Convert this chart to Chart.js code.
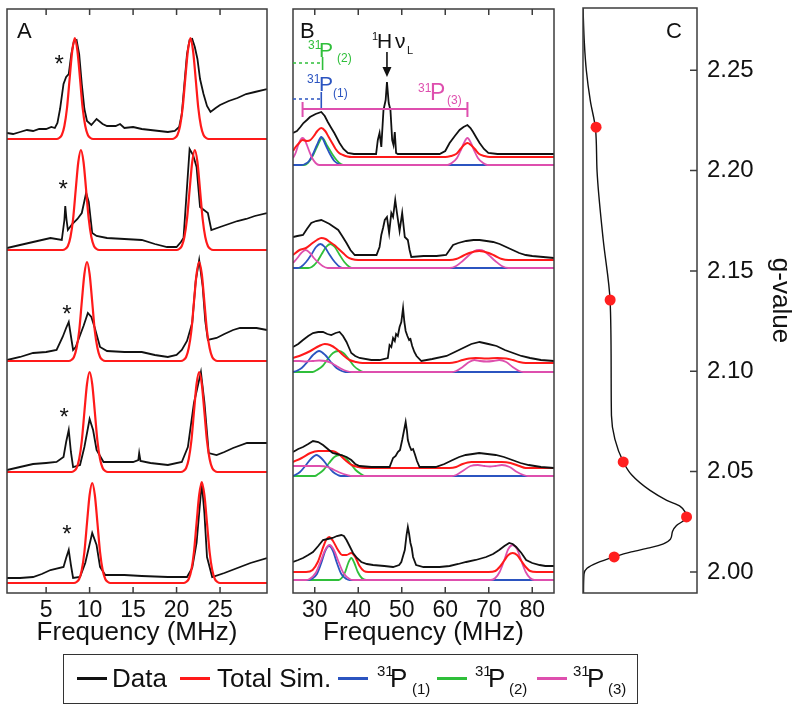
<!DOCTYPE html>
<html><head><meta charset="utf-8">
<script src="https://cdn.jsdelivr.net/npm/chart.js@4.4.1/dist/chart.umd.min.js"></script>
<style>
html,body{margin:0;padding:0;background:#fff;}
body{width:800px;height:710px;position:relative;overflow:hidden;font-family:'Liberation Sans',Arial,Helvetica,sans-serif;color:#111;}
canvas{position:absolute;top:0;}
#cA{left:0;} #cB{left:280px;} #cC{left:570px;}
#legendBox{position:absolute;left:63px;top:654px;width:575px;height:50px;border:1.5px solid #333;box-sizing:border-box;}
.ln{position:absolute;top:677px;height:3px;width:30px;}
.tx{position:absolute;font-size:26px;line-height:1;white-space:nowrap;top:665px;}
.sp{position:absolute;font-size:15px;line-height:1;white-space:nowrap;top:663px;}
.sb{position:absolute;font-size:15px;line-height:1;white-space:nowrap;top:681px;}
</style></head>
<body>
<canvas id="cA" width="280" height="660"></canvas>
<canvas id="cB" width="290" height="660"></canvas>
<canvas id="cC" width="230" height="600"></canvas>
<div id="legendBox"></div>
<div class="ln" style="left:77px;background:#111"></div><span class="tx" style="left:112px">Data</span>
<div class="ln" style="left:180px;background:#ff1a1a"></div><span class="tx" style="left:217px">Total Sim.</span>
<div class="ln" style="left:338px;background:#2b54c0"></div><span class="sp" style="left:377px">31</span><span class="tx" style="left:390px">P</span><span class="sb" style="left:412px">(1)</span>
<div class="ln" style="left:437px;background:#2fbf3a"></div><span class="sp" style="left:475px">31</span><span class="tx" style="left:488px">P</span><span class="sb" style="left:509px">(2)</span>
<div class="ln" style="left:537px;background:#de4fae"></div><span class="sp" style="left:573px">31</span><span class="tx" style="left:587px">P</span><span class="sb" style="left:608px">(3)</span>
<script>
// ===================== DATA =====================
// Panel A: ENDOR spectra, frequency (MHz) vs intensity (arb.), five field positions (top to bottom)
const A_ticks = [5, 10, 15, 20, 25];
const A1_black = [[0.5,6],[1.2,5],[2,7],[2.8,9],[3.5,8],[4.2,10],[5,10],[5.6,12],[6,11],[6.3,16],[6.6,30],[7.0,55],[7.3,62],[7.6,65],[7.9,85],[8.2,98],[8.5,99],[8.8,85],[9.1,55],[9.4,30],[9.7,18],[10.2,14],[10.8,20],[11.5,15],[12,13],[13,13],[13.5,15],[14,11],[15,12],[16,10],[17,9],[18,8],[19,7],[19.8,8],[20.3,12],[20.6,25],[20.9,55],[21.2,85],[21.5,99],[21.8,100],[22.1,92],[22.4,80],[22.7,60],[23.1,45],[23.5,33],[23.9,27],[24.5,31],[25,34],[26,38],[27,41],[28,45],[29,47],[30.4,50]];
const A1_sim = [[0.5,0],[6.2,0],[6.5,1],[6.8,4],[7.1,13],[7.4,31],[7.7,60],[8.0,88],[8.3,101],[8.6,88],[8.9,60],[9.2,31],[9.5,13],[9.8,4],[10.1,1],[10.4,0],[19.5,0],[19.8,1],[20.1,4],[20.4,13],[20.7,31],[21.0,60],[21.3,88],[21.6,101],[21.9,88],[22.2,60],[22.5,31],[22.8,13],[23.1,4],[23.4,1],[23.7,0],[30.4,0]];
const A2_black = [[0.5,2],[2,5],[3.5,8],[5.5,12],[6.8,10],[7.1,30],[7.2,44],[7.35,30],[7.5,20],[8.0,26],[8.6,31],[9.1,37],[9.6,57],[9.9,48],[10.3,17],[10.8,14],[12,12],[14,11],[16,10],[17.5,6],[18.9,3],[20,3],[20.5,8],[20.8,12],[21.1,50],[21.5,101],[21.9,95],[22.3,83],[22.7,43],[23.6,37],[24.0,20],[25,23],[26,26],[27,29],[28,31],[29,34],[30.4,37]];
const A2_sim = [[0.5,0],[6.9,0],[7.2,1],[7.5,4],[7.8,13],[8.1,31],[8.4,60],[8.7,88],[9.0,100],[9.3,88],[9.6,60],[9.9,31],[10.2,13],[10.5,4],[10.8,1],[11.1,0],[20.0,0],[20.3,1],[20.6,4],[20.9,13],[21.2,31],[21.5,60],[21.8,88],[22.1,100],[22.4,88],[22.7,60],[23.0,31],[23.3,13],[23.6,4],[23.9,1],[24.2,0],[30.4,0]];
const A3_black = [[0.5,1],[2,4],[3.5,8],[5,9],[6.2,11],[6.9,24],[7.3,33],[7.6,39],[7.85,25],[8.1,11],[8.4,14],[8.7,21],[9.3,35],[9.8,48],[10.2,44],[10.6,33],[11.2,14],[12,10],[14,9],[16,9],[17.5,6],[19,4],[20,6],[20.6,11],[21.2,20],[21.8,38],[22.2,80],[22.6,101],[23.0,75],[23.3,40],[23.6,21],[24.6,23],[25.5,27],[26.5,31],[27.3,33],[29.2,33],[30.4,31]];
const A3_sim = [[0.5,0],[7.6,0],[7.9,1],[8.2,4],[8.5,13],[8.8,30],[9.1,59],[9.4,87],[9.7,99],[10.0,87],[10.3,59],[10.6,30],[10.9,13],[11.2,4],[11.5,1],[11.8,0],[20.5,0],[20.8,1],[21.1,4],[21.4,13],[21.7,30],[22.0,59],[22.3,87],[22.6,99],[22.9,87],[23.2,59],[23.5,30],[23.8,13],[24.1,4],[24.4,1],[24.7,0],[30.4,0]];
const A4_black = [[0.5,2],[2,5],[3.5,8],[5,9],[6.2,10],[7.0,15],[7.3,30],[7.6,42],[7.85,20],[8.1,5],[8.9,7],[9.4,25],[10.0,53],[10.4,42],[10.8,22],[11.6,10],[13,10],[15,10],[15.6,12],[15.7,19],[15.85,11],[17,9],[19,7],[20.6,10],[21.3,25],[22.0,69],[22.8,100],[23.2,70],[23.7,19],[24.6,17],[25.5,20],[26.5,24],[28.1,29],[30.4,29]];
const A4_sim = [[0.5,0],[7.9,0],[8.2,1],[8.5,4],[8.8,13],[9.1,31],[9.4,60],[9.7,88],[10.0,100],[10.3,88],[10.6,60],[10.9,31],[11.2,13],[11.5,4],[11.8,1],[12.1,0],[20.5,0],[20.8,1],[21.1,4],[21.4,13],[21.7,31],[22.0,60],[22.3,88],[22.6,100],[22.9,88],[23.2,60],[23.5,31],[23.8,13],[24.1,4],[24.4,1],[24.7,0],[30.4,0]];
const A5_black = [[0.5,5],[2,5],[3.5,6],[4.5,9],[5.5,13],[7.0,16],[7.3,25],[7.6,33],[7.85,18],[8.1,5],[8.9,6],[9.5,20],[10.3,50],[10.8,38],[11.2,16],[11.8,8],[14,8],[16,7],[19,6],[21.2,6],[21.8,15],[22.3,40],[22.9,100],[23.2,70],[23.5,26],[24.1,6],[25.5,10],[27,15],[28.5,20],[30.4,25]];
const A5_sim = [[0.5,0],[8.2,0],[8.5,1],[8.8,4],[9.1,13],[9.4,31],[9.7,60],[10.0,88],[10.3,100],[10.6,88],[10.9,60],[11.2,31],[11.5,13],[11.8,4],[12.1,1],[12.4,0],[20.8,0],[21.1,1],[21.4,4],[21.7,13],[22.0,31],[22.3,60],[22.6,88],[22.9,101],[23.2,88],[23.5,60],[23.8,31],[24.1,13],[24.4,4],[24.7,1],[25.0,0],[30.4,0]];

// Panel B: 31P region, five field positions (top to bottom)
const B_ticks = [30, 40, 50, 60, 70, 80];
const B1_black = [[25,32],[25.9,34],[26.7,38],[27.4,42],[28.2,45],[28.9,48],[30.2,51],[31.5,53],[32.3,49],[33,43],[33.8,37],[34.5,32],[35.1,27],[35.7,22],[36.6,16],[37.6,12],[39,11],[41.8,11],[44.1,11],[44.5,25],[44.9,32],[45.3,18],[45.8,55],[46.3,65],[46.6,83],[47.0,62],[47.4,55],[47.8,25],[48.1,20],[48.4,33],[48.7,12],[49.1,11],[52,11],[55,11],[58.7,11],[60,14],[61,22],[62.2,29],[63.3,35],[64.2,38],[65.1,40],[65.8,37],[66.4,33],[67.2,27],[67.9,22],[68.9,16],[69.9,12],[72,11],[76,11],[80,11],[85,11]];
const B1_sim = [[25,14],[25.6,18],[26.2,21],[27.2,25],[28.2,24],[29,25],[29.8,29],[30.6,34],[31.5,37],[32.4,34],[33.2,28],[34,22],[34.8,16],[35.6,12],[36.5,10],[37.5,8.5],[38.5,8],[60,8],[61.3,9],[62.5,11],[63.5,16],[64.3,20],[65.1,22],[65.9,20],[66.8,16],[67.8,11],[69,9],[70.3,8],[85,8]];
const B1_P1 = [[25,0],[27,0],[27.8,1],[28.7,4],[29.6,11],[30.5,20],[31.5,28],[32.5,20],[33.5,11],[34.5,4],[35.5,1],[36.3,0],[85,0]];
const B1_P2 = [[25,0],[27.5,0],[28.4,2],[29.4,8],[30.5,18],[31.7,27],[32.9,19],[34,11],[35,5],[36,1],[37,0],[85,0]];
const B1_P3 = [[25,7],[25.6,12],[26.2,20],[26.7,25],[27.2,27],[27.7,25],[28.2,20],[28.8,13],[29.4,7],[30.2,2],[31,0],[60.5,0],[61.5,2],[62.7,7],[63.6,15],[64.3,22],[65.1,27],[65.9,22],[66.6,15],[67.5,7],[68.7,2],[69.7,0],[85,0]];
const B2_black = [[25,31],[26,32],[27.3,33],[28.2,39],[29.2,45],[30.3,47],[31.5,48],[32.5,46],[33.4,44],[34.4,41],[35.4,38],[36.3,32],[37.3,25],[38.2,18],[39.2,13],[41,13],[44.2,13],[44.9,21],[45.3,33],[45.7,40],[46.1,48],[46.6,51],[47.1,35],[47.6,55],[48.0,51],[48.5,68],[48.9,55],[49.5,37],[50.1,55],[50.7,31],[51.4,28],[51.8,18],[52.2,11],[55,12],[58,12],[60.2,13],[61.8,23],[63,25],[64.8,27],[66.5,28],[67.9,28],[69.5,27],[71,26],[72.5,24],[74,21],[75.5,18],[77,15],[78.5,13],[80,12],[82.5,11],[85,10]];
const B2_sim = [[25,13],[26.5,18],[28,20],[29.5,25],[30.5,28],[31.5,30],[32.5,29],[33.5,26],[34.5,23],[35.5,19],[36.5,15],[37.5,11],[38.5,9],[40,8],[61,8],[62.5,9],[64,12],[65.5,15],[67.8,17],[70,15],[71.5,12],[73,9],[74.5,8],[85,8]];
const B2_P1 = [[25,0],[26,0],[26.8,1],[28,6],[29.3,14],[30.3,21],[31.3,24],[32.3,21],[33.3,14],[34.6,6],[35.8,1],[36.8,0],[85,0]];
const B2_P2 = [[25,0],[28.5,0],[29.3,1],[30.5,6],[31.6,14],[32.6,21],[33.6,24],[34.6,21],[35.6,14],[36.8,6],[38,1],[39,0],[85,0]];
const B2_P3 = [[25,5],[26,10],[26.9,15],[27.9,18],[28.9,15],[29.8,10],[30.7,6],[31.8,2],[33,0],[61,0],[62.5,2],[64,7],[65.5,13],[66.7,17],[67.8,18],[68.9,17],[70,13],[71.5,7],[73,2],[74.5,0],[85,0]];
const B3_black = [[25,25],[26.2,28],[27.3,32],[28.5,36],[29.6,39],[30.8,40],[31.9,40],[32.9,38],[33.8,37],[34.8,39],[35.7,40],[36.5,36],[37.3,30],[37.9,24],[38.4,19],[39.3,16],[40.3,14],[43,12],[44.9,12],[46.8,14],[47.2,27],[47.6,25],[48,34],[48.4,31],[48.7,38],[49.1,36],[49.5,45],[49.9,50],[50.3,64],[50.6,50],[50.9,41],[51.3,36],[51.7,32],[52,33],[52.4,26],[52.9,20],[53.4,16],[54.5,11],[57,13],[60.3,16],[62.2,20],[64.1,24],[66,28],[67.9,30],[69.9,28],[71.8,26],[73.7,22],[75.6,19],[77.5,16],[79.5,14],[82,12],[85,11]];
const B3_sim = [[25,14],[27,17],[29,21],[31,26],[32.3,28],[33.5,27],[35,23],[36.5,17],[38,12],[39.5,10],[41,9],[61,9],[62.5,10],[64,12],[65.5,13.5],[67,14],[69.5,13.5],[72,14],[74,13.5],[75.5,12],[77,10],[78.5,9],[85,9]];
const B3_P1 = [[25,0],[25.8,1],[27,4],[28.3,10],[29.6,17],[31,21],[32.4,17],[33.7,10],[35,4],[36.2,1],[37,0],[85,0]];
const B3_P2 = [[25,0],[29.5,0],[30.5,2],[31.8,6],[33,13],[34.2,19],[35.4,21],[36.6,19],[37.8,13],[39,6],[40.2,2],[41.2,0],[85,0]];
const B3_P3 = [[25,11],[26.5,11],[28,10.5],[29.5,11],[31,11.5],[32.5,11],[33.8,9],[35,6],[36.2,3],[37.3,1],[38.5,0],[61.5,0],[62.5,1],[64,5],[65.5,10],[66.7,12],[68,11],[69.5,10.5],[71,11],[72.4,12],[74,10],[75.5,5],[77,1],[78,0],[85,0]];
const B4_black = [[25,24],[26.2,27],[27.3,29],[28.5,32],[29.6,35],[30.8,34],[31.9,31],[33,27],[34.1,23],[35.1,22],[36.1,21],[37.3,19],[38.4,16],[39.3,12],[40.3,10],[43,9],[47.2,9],[48,18],[48.6,20],[49.1,24],[49.6,26],[50.1,36],[50.5,45],[50.9,54],[51.2,45],[51.4,36],[51.8,30],[52.2,26],[52.6,27],[53,22],[53.5,15],[54.1,9],[57.8,9],[59.8,12],[61.7,16],[63.2,19],[64.7,21],[66.3,22],[67.8,23],[69.7,22],[71.6,21],[73.5,19],[75.4,16],[77.3,13],[79.2,11],[82,9],[85,8]];
const B4_sim = [[25,14],[27,18],[29,23],[30.8,25],[32.5,25],[34,25],[35.5,22],[37,16],[38.5,11],[40,9],[41.5,8],[61,8],[62.5,9],[64,12],[66,14],[70,14],[73,14],[75,13],[77,10],[78.5,8],[85,8]];
const B4_P1 = [[25,0],[25.5,1],[26.6,4],[27.8,10],[29.1,17],[30.4,21],[31.7,17],[33,10],[34.2,4],[35.3,1],[36,0],[85,0]];
const B4_P2 = [[25,0],[30,0],[30.8,2],[32,6],[33.3,13],[34.5,19],[35.7,21],[36.9,19],[38.1,13],[39.4,6],[40.6,2],[41.5,0],[85,0]];
const B4_P3 = [[25,10],[28,10],[31,10],[33,9],[34.5,6],[36,3],[37.5,1],[38.5,0],[61.5,0],[62.5,1],[64,5],[65.8,10],[67.5,11],[69,10],[70.3,9.5],[71.5,10],[73,11],[74.8,9],[76.5,4],[78,1],[79,0],[85,0]];
const B5_black = [[25,18],[26.2,20],[27.3,22],[28.5,25],[29.6,28],[30.8,34],[31.9,40],[33,41],[34.1,42],[35.1,44],[36.1,45],[36.7,44],[37.3,40],[38,34],[38.8,27],[39.7,22],[40.7,18],[42,16],[43.4,15],[46,14],[48,13],[49.4,15],[49.9,18],[50.3,24],[50.7,30],[51.1,45],[51.4,53],[51.7,46],[52,37],[52.3,32],[52.6,23],[53.3,15],[55,13],[58.7,13],[61,14],[63,16],[64.8,18],[67,20],[69.4,23],[71,26],[72.4,30],[73.6,34],[74.7,37],[75.5,36],[76.3,33],[77.5,27],[78.6,20],[80,17],[81.7,15],[83,14],[85,14]];
const B5_sim = [[25,8],[28,8],[29.5,10],[30.7,18],[31.7,30],[32.6,40],[33.3,43],[34.2,39],[35.2,31],[36.3,25],[37.3,25],[38.4,27],[39.3,23],[40.3,14],[41.3,9],[42.3,8],[70,8],[71.5,9],[72.5,13],[73.5,19],[74.5,25],[75.5,27],[76.5,25],[77.5,19],[78.5,13],[79.5,9],[81,8],[85,8]];
const B5_P1 = [[25,0],[28.5,0],[29.3,1],[30.5,6],[31.5,17],[32.4,29],[33.3,34],[34.2,29],[35.1,17],[36.1,6],[37.3,1],[38,0],[85,0]];
const B5_P2 = [[25,0],[35.5,0],[36.2,2],[37,8],[37.7,17],[38.4,22],[39.1,17],[39.9,8],[40.8,2],[41.8,0],[85,0]];
const B5_P3 = [[25,0],[28,0],[28.8,1],[30.2,7],[31.3,18],[32.4,30],[33.4,35],[34.4,30],[35.5,18],[36.6,7],[38,1],[38.8,0],[70.5,0],[71.5,2],[72.5,8],[73.5,19],[74.5,31],[75.5,35],[76.5,31],[77.5,19],[78.5,8],[79.5,2],[80.5,0],[85,0]];

// Panel C: EPR absorption envelope (g-value vs intensity) and field positions of the spectra
const C_ticks = [2.00, 2.05, 2.10, 2.15, 2.20, 2.25];
const C_g   = [1.9895, 1.9990, 2.0018, 2.0045, 2.0075, 2.0100, 2.0120, 2.0140, 2.0163, 2.0202, 2.0231, 2.0270, 2.0298, 2.0327, 2.0357, 2.0406, 2.0484, 2.0549, 2.0662, 2.0780, 2.0995, 2.1348, 2.1660, 2.1995, 2.2206, 2.2347, 2.2500, 2.2640, 2.2810];
const C_int = [0.5, 1, 4, 14, 31, 48, 66, 80, 87, 89, 93, 102.7, 101.7, 96.7, 83.3, 66.7, 48.3, 40, 31.7, 28.3, 28, 27, 20, 14, 12.5, 7.3, 3.3, 1.3, 0];
const C_dot_g   = [2.2216, 2.1355, 2.0548, 2.0274, 2.0075];
const C_dot_int = [13, 27, 40, 103, 31];

// ===================== LAYOUT / STYLE =====================
const FONT = "'Liberation Sans', Arial, Helvetica, sans-serif";
Chart.defaults.font.family = FONT;
Chart.defaults.color = '#111';
const COL = {data:'#111111', sim:'#ff1a1a', p1:'#2b54c0', p2:'#2fbf3a', p3:'#de4fae', frame:'#3c3c3c'};
const A_offsets = [454, 343, 232, 121, 10];   // vertical stacking of traces in panel A
const B_offsets = [428, 325, 221, 117, 13];   // vertical stacking of traces in panel B
const A_stars = [[6.5,79],[6.95,65],[7.4,51],[7.07,59],[7.4,53]]; // asterisk marks (MHz, height above trace)

function pts(arr, off){ return arr.map(([x,y]) => ({x:x, y:y+off})); }
function ds(arr, off, color, w, order, smooth){
  return {data: pts(arr, off), borderColor: color, backgroundColor: color, borderWidth: w, pointRadius: 0,
          fill: false, order: order, tension: 0, cubicInterpolationMode: smooth ? 'monotone' : 'default'};
}
function txt(ctx, s, x, y, size, color, align){
  ctx.font = size + 'px ' + FONT; ctx.fillStyle = color; ctx.textAlign = align || 'left';
  ctx.textBaseline = 'alphabetic'; ctx.fillText(s, x, y);
}
function noPad(s){ s.paddingTop = 0; s.paddingBottom = 0; s.paddingLeft = 0; s.paddingRight = 0; }
function framePlugin(cfg){
  return { id: 'frame' + cfg.letter, afterDraw(chart){
    const ctx = chart.ctx, a = chart.chartArea;
    ctx.save();
    ctx.strokeStyle = COL.frame; ctx.lineWidth = 1.5;
    ctx.strokeRect(a.left, a.top, a.right - a.left, a.bottom - a.top);
    ctx.beginPath();
    if (cfg.xTicks){ const s = chart.scales.x; s.ticks.forEach(t => { const p = s.getPixelForValue(t.value);
      ctx.moveTo(p, a.top); ctx.lineTo(p, a.top + 6); ctx.moveTo(p, a.bottom); ctx.lineTo(p, a.bottom - 6); }); }
    if (cfg.yTicks){ const s = chart.scales.y; s.ticks.forEach(t => { const p = s.getPixelForValue(t.value);
      ctx.moveTo(a.right - 7, p); ctx.lineTo(a.right, p); }); }
    ctx.stroke();
    if (cfg.letterRight) txt(ctx, cfg.letter, a.right - 15, a.top + 30, 22, '#111', 'right');
    else txt(ctx, cfg.letter, a.left + cfg.letterDx, a.top + 29, 22, '#111', 'left');
    if (cfg.extra) cfg.extra(chart, ctx, a);
    ctx.restore();
  }};
}
function xScale(min, max, ticks){
  return {type:'linear', position:'bottom', min:min, max:max,
    grid:{display:false, drawTicks:false}, border:{display:false},
    ticks:{padding:4, font:{size:23}, color:'#111', maxRotation:0, autoSkip:false},
    afterBuildTicks: s => { s.ticks = ticks.map(v => ({value:v})); },
    afterFit: s => { s.height = 55; noPad(s); },
    title:{display:true, text:'Frequency (MHz)', font:{size:26}, color:'#111', padding:{top:0, bottom:0}}};
}
const common = {responsive:false, animation:false, devicePixelRatio:1, events:[],
  plugins:{legend:{display:false}, tooltip:{enabled:false}}};

// ---------- Panel A ----------
const A_black = [A1_black, A2_black, A3_black, A4_black, A5_black];
const A_sim = [A1_sim, A2_sim, A3_sim, A4_sim, A5_sim];
const dsA = [];
for (let i = 0; i < 5; i++){
  dsA.push(ds(A_sim[i], A_offsets[i], COL.sim, 2.2, 0, true));
  dsA.push(ds(A_black[i], A_offsets[i], COL.data, 1.8, 1, false));
}
new Chart(document.getElementById('cA'), {type:'line', data:{datasets:dsA},
  options:Object.assign({}, common, {layout:{padding:{left:7, right:13, top:9, bottom:12}},
    scales:{x:xScale(0.5, 30.4, A_ticks), y:{type:'linear', display:false, min:0, max:584}}}),
  plugins:[framePlugin({letter:'A', letterDx:10, xTicks:true, extra:(chart, ctx) => {
    const sx = chart.scales.x, sy = chart.scales.y;
    A_stars.forEach((s, i) => { txt(ctx, '*', sx.getPixelForValue(s[0]), sy.getPixelForValue(s[1] + A_offsets[i]) + 12, 24, '#111', 'center'); });
  }})]});

// ---------- Panel B ----------
const B_black = [B1_black, B2_black, B3_black, B4_black, B5_black];
const B_sim = [B1_sim, B2_sim, B3_sim, B4_sim, B5_sim];
const B_P1 = [B1_P1, B2_P1, B3_P1, B4_P1, B5_P1];
const B_P2 = [B1_P2, B2_P2, B3_P2, B4_P2, B5_P2];
const B_P3 = [B1_P3, B2_P3, B3_P3, B4_P3, B5_P3];
const dsB = [];
for (let i = 0; i < 5; i++){
  dsB.push(ds(B_black[i], B_offsets[i], COL.data, 1.8, 0, false));
  dsB.push(ds(B_sim[i], B_offsets[i], COL.sim, 2, 1, true));
  dsB.push(ds(B_P3[i], B_offsets[i], COL.p3, 1.8, 2, true));
  dsB.push(ds(B_P1[i], B_offsets[i], COL.p1, 1.8, 3, true));
  dsB.push(ds(B_P2[i], B_offsets[i], COL.p2, 1.8, 4, true));
}
new Chart(document.getElementById('cB'), {type:'line', data:{datasets:dsB},
  options:Object.assign({}, common, {layout:{padding:{left:13, right:16, top:9, bottom:12}},
    scales:{x:xScale(25, 85, B_ticks), y:{type:'linear', display:false, min:0, max:584}}}),
  plugins:[framePlugin({letter:'B', letterDx:7, xTicks:true, extra:(chart, ctx, a) => {
    const sx = chart.scales.x;
    const xg = sx.getPixelForValue(31.8), xb = sx.getPixelForValue(31.5);
    // 31P(2) marker (green)
    ctx.lineWidth = 1.6; ctx.strokeStyle = COL.p2; ctx.setLineDash([3, 3]);
    ctx.beginPath(); ctx.moveTo(a.left, 63); ctx.lineTo(xg, 63); ctx.stroke();
    ctx.setLineDash([]); ctx.beginPath(); ctx.moveTo(xg, 57); ctx.lineTo(xg, 70); ctx.stroke();
    txt(ctx, '31', 28, 49, 12, COL.p2); txt(ctx, 'P', 39, 57, 21, COL.p2); txt(ctx, '(2)', 57, 62, 12, COL.p2);
    // 31P(1) marker (blue)
    ctx.strokeStyle = COL.p1; ctx.setLineDash([3, 3]);
    ctx.beginPath(); ctx.moveTo(a.left, 99); ctx.lineTo(xb, 99); ctx.stroke();
    ctx.setLineDash([]); ctx.beginPath(); ctx.moveTo(xb, 92); ctx.lineTo(xb, 108); ctx.stroke();
    txt(ctx, '31', 27, 83, 12, COL.p1); txt(ctx, 'P', 39, 91, 21, COL.p1); txt(ctx, '(1)', 53, 97, 12, COL.p1);
    // 31P(3) bracket (magenta)
    const m1 = sx.getPixelForValue(27.2), m2 = sx.getPixelForValue(65.1);
    ctx.strokeStyle = COL.p3; ctx.lineWidth = 2;
    ctx.beginPath(); ctx.moveTo(m1, 109); ctx.lineTo(m2, 109);
    ctx.moveTo(m1, 102); ctx.lineTo(m1, 117); ctx.moveTo(m2, 102); ctx.lineTo(m2, 117); ctx.stroke();
    txt(ctx, '31', 138, 92, 12, COL.p3); txt(ctx, 'P', 150, 100, 23, COL.p3); txt(ctx, '(3)', 167, 104, 12, COL.p3);
    // 1H Larmor arrow
    const xh = sx.getPixelForValue(46.6);
    txt(ctx, '1', 92, 40, 11, '#111'); txt(ctx, 'H', 97, 48, 21, '#111'); txt(ctx, 'ν', 115, 48, 21, '#111'); txt(ctx, 'L', 127, 54, 11, '#111');
    ctx.strokeStyle = '#111'; ctx.fillStyle = '#111'; ctx.lineWidth = 1.6;
    ctx.beginPath(); ctx.moveTo(xh, 52); ctx.lineTo(xh, 70); ctx.stroke();
    ctx.beginPath(); ctx.moveTo(xh - 4.5, 67); ctx.lineTo(xh + 4.5, 67); ctx.lineTo(xh, 77); ctx.closePath(); ctx.fill();
  }})]});

// ---------- Panel C ----------
new Chart(document.getElementById('cC'), {type:'line',
  data:{datasets:[
    {data: C_dot_g.map((g, i) => ({x: C_dot_int[i], y: g})), showLine:false, pointRadius:5.5,
     pointBackgroundColor:'#ff1f1f', pointBorderColor:'#ff1f1f', pointBorderWidth:0, order:0},
    {data: C_g.map((g, i) => ({x: C_int[i], y: g})), borderColor:'#111', borderWidth:1.4, pointRadius:0,
     cubicInterpolationMode:'monotone', fill:false, order:1}]},
  options:Object.assign({}, common, {indexAxis:'y', layout:{padding:{left:13, right:4, top:8, bottom:7}},
    scales:{
      x:{type:'linear', display:false, min:0, max:113.4},
      y:{type:'linear', position:'right', min:1.9895, max:2.281,
        grid:{display:false, drawTicks:false}, border:{display:false},
        ticks:{padding:10, font:{size:24}, color:'#111', callback: v => Number(v).toFixed(2)},
        afterBuildTicks: s => { s.ticks = C_ticks.map(v => ({value:v})); },
        afterFit: s => { s.width = 99; noPad(s); },
        title:{display:true, text:'g-value', font:{size:26}, color:'#111', padding:{top:0, bottom:0}}}}}),
  plugins:[framePlugin({letter:'C', letterRight:true, yTicks:true})]});
</script>
</body></html>
